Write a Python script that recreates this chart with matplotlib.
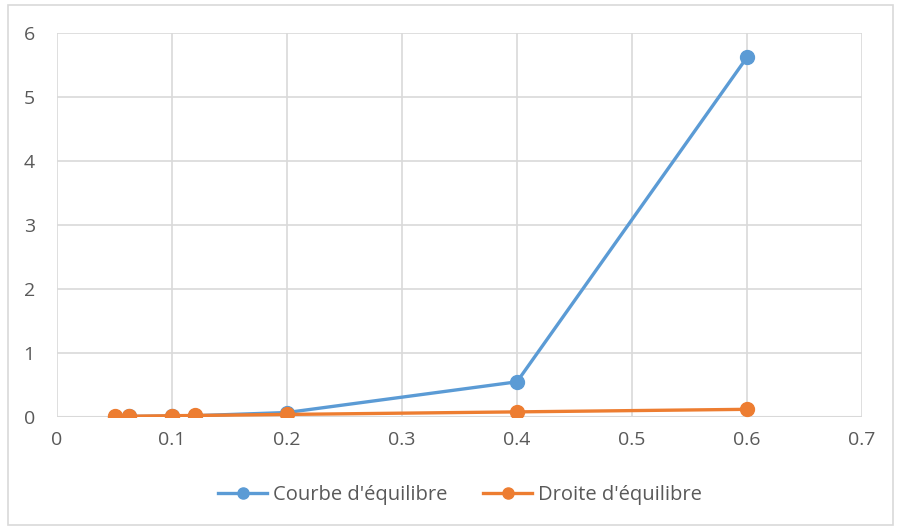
import matplotlib
matplotlib.use("Agg")
import matplotlib.pyplot as plt
from matplotlib.patches import Rectangle

# Data
x_vals = [0.05, 0.063, 0.1, 0.12, 0.2, 0.4, 0.6]
courbe = [0.005, 0.008, 0.015, 0.02, 0.07, 0.55, 5.62]
droite = [0.01, 0.0125, 0.02, 0.024, 0.04, 0.08, 0.12]
x_ticks = [0, 0.1, 0.2, 0.3, 0.4, 0.5, 0.6, 0.7]
x_tick_labels = ["0", "0.1", "0.2", "0.3", "0.4", "0.5", "0.6", "0.7"]
y_ticks = [0, 1, 2, 3, 4, 5, 6]
series_names = ["Courbe d'équilibre", "Droite d'équilibre"]

blue = "#5B9BD5"
orange = "#ED7D31"
grid_c = "#D9D9D9"
text_c = "#595959"

plt.rcParams["font.family"] = ["Open Sans", "DejaVu Sans"]

W, H = 899, 532
fig = plt.figure(figsize=(W / 100, H / 100), dpi=100)
fig.patch.set_facecolor("white")

# outer chart border
fig.add_artist(Rectangle((8 / W, 1 - 525 / H), (893 - 8) / W, (525 - 5) / H,
                         transform=fig.transFigure, fill=False,
                         edgecolor=grid_c, linewidth=1.2))

left, right, top, bottom = 57, 862, 33, 417
ax = fig.add_axes([left / W, 1 - bottom / H, (right - left) / W, (bottom - top) / H])

ax.plot(x_vals, courbe, color=blue, linewidth=2.4, marker="o", markersize=10,
        label=series_names[0], zorder=3)
ax.plot(x_vals, droite, color=orange, linewidth=2.4, marker="o", markersize=10,
        label=series_names[1], zorder=4)

ax.set_xlim(0, 0.7)
ax.set_ylim(0, 6)
ax.set_xticks(x_ticks)
ax.set_xticklabels(x_tick_labels)
ax.set_yticks(y_ticks)
ax.grid(True, color=grid_c, linewidth=1.2)
ax.set_axisbelow(True)
for s in ax.spines.values():
    s.set_visible(False)
ax.axhline(0, color=grid_c, linewidth=1.5, zorder=1)
ax.tick_params(length=0, labelsize=14, labelcolor=text_c, pad=10)
ax.tick_params(axis="y", pad=16)

leg = fig.legend(loc="center", bbox_to_anchor=(460 / W, 1 - 495 / H), ncol=2,
                 frameon=False, fontsize=14.5, handlelength=2.4,
                 columnspacing=1.8, handletextpad=0.3, markerscale=0.8)
for t in leg.get_texts():
    t.set_color(text_c)

fig.savefig("out.png", dpi=100)
